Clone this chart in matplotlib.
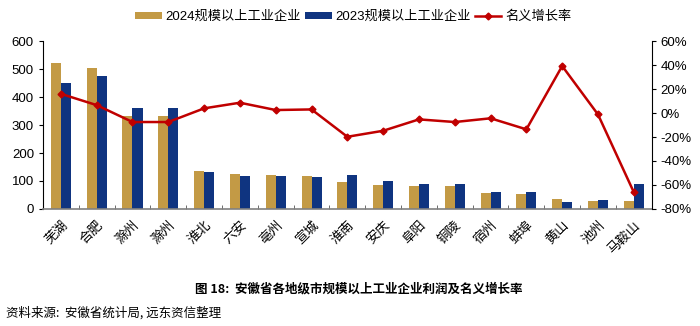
import numpy as np
import matplotlib.pyplot as plt
from matplotlib.ticker import FuncFormatter

plt.rcParams['font.family'] = ['Liberation Sans', 'Noto Sans CJK SC']
plt.rcParams['axes.unicode_minus'] = False

cities = ['芜湖', '合肥', '滁州', '滁州', '淮北', '六安', '亳州', '宣城', '淮南',
          '安庆', '阜阳', '铜陵', '宿州', '蚌埠', '黄山', '池州', '马鞍山']
profit_2024 = [520, 505, 332, 332, 136, 126, 120, 117, 95,
               86, 83, 82, 56, 52, 35, 30, 30]
profit_2023 = [449, 474, 360, 360, 131, 117, 117, 113, 120,
               100, 90, 90, 60, 62, 25, 31, 88]
growth = [16.0, 6.6, -7.5, -7.5, 3.9, 8.6, 2.5, 3.0, -19.8,
          -14.8, -5.3, -7.5, -4.4, -13.6, 39.2, -1.2, -66.0]

gold = '#C39A45'
navy = '#0F3480'
red = '#C00000'
cjk = ['Noto Sans CJK SC', 'DejaVu Sans']

fig = plt.figure(figsize=(7, 3.26), dpi=100)
ax = fig.add_axes([0.0614, 0.359, 0.8696, 0.515])
x = np.arange(len(cities))
w = 0.28
b1 = ax.bar(x - w / 2, profit_2024, w, color=gold, label='2024规模以上工业企业')
b2 = ax.bar(x + w / 2, profit_2023, w, color=navy, label='2023规模以上工业企业')
ax.set_ylim(0, 600)
ax.set_xlim(-0.5, len(cities) - 0.5)
ax.set_yticks(range(0, 601, 100))
ax.tick_params(axis='y', labelsize=9.5, length=3, direction='out')
ax.set_xticks(x)
ax.set_xticklabels(cities, rotation=45, ha='right', rotation_mode='anchor',
                   fontsize=9.5, family=cjk)
ax.tick_params(axis='x', length=0, pad=7)
ax.set_xticks(np.arange(0.5, len(cities) - 1, 1), minor=True)
ax.tick_params(axis='x', which='minor', length=3, direction='in', color='#555555')
ax.spines['top'].set_visible(False)
ax.spines['right'].set_visible(False)
ax.spines['bottom'].set_color('#808080')
ax.spines['bottom'].set_linewidth(1.2)

ax2 = ax.twinx()
l1, = ax2.plot(x, growth, color=red, lw=1.8, marker='D', markersize=3.5, label='名义增长率')
ax2.set_ylim(-80, 60)
ax2.set_yticks(range(-80, 61, 20))
ax2.yaxis.set_major_formatter(FuncFormatter(lambda v, p: f'{int(v)}%'))
ax2.tick_params(axis='y', labelsize=9.5, length=3, direction='out')
ax2.spines['top'].set_visible(False)
ax2.spines['left'].set_visible(False)
ax2.spines['bottom'].set_visible(False)

fig.legend(handles=[b1, b2, l1], loc='center', bbox_to_anchor=(0.505, 0.948), ncol=3,
           frameon=False, prop={'family': ['Liberation Sans', 'Noto Sans CJK SC'], 'size': 9.5},
           handlelength=2.0, handleheight=0.45, columnspacing=0.3, handletextpad=0.3)

fig.text(0.513, 0.113, '图 18:  安徽省各地级市规模以上工业企业利润及名义增长率',
         ha='center', va='center', fontsize=9, fontweight='bold', family=cjk)
fig.text(0.008, 0.04, '资料来源:  安徽省统计局, 远东资信整理', ha='left', va='center',
         fontsize=9, family=cjk)

fig.savefig('out.png', dpi=100)
